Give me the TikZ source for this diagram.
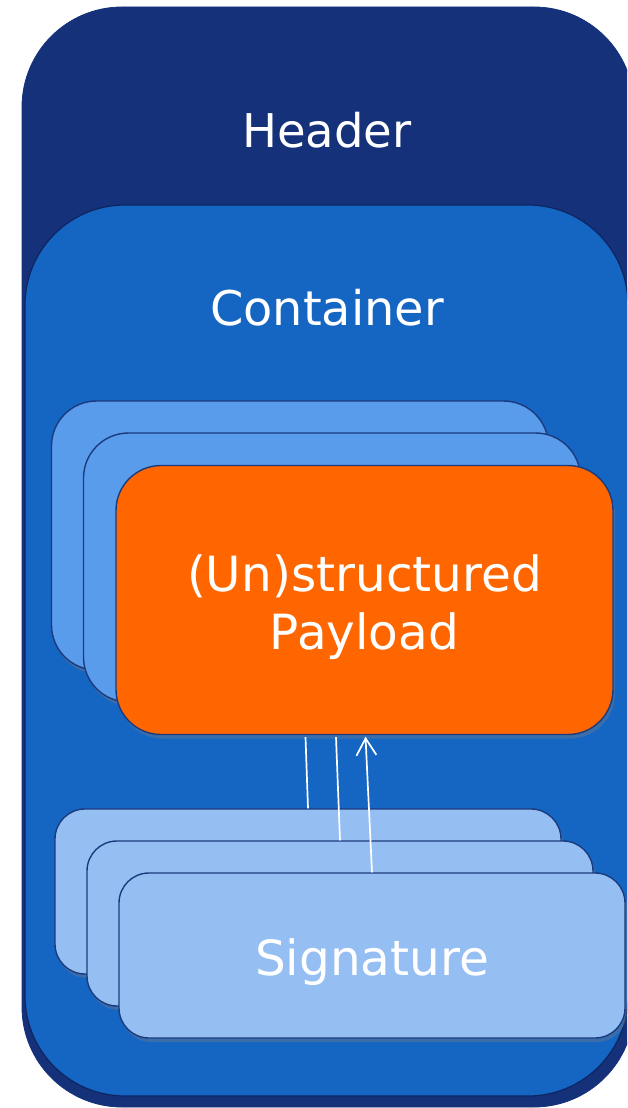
\documentclass[tikz,border=0pt]{standalone}
\usepackage{fontspec}
\setmainfont{DejaVu Sans}
\usetikzlibrary{shadows,arrows.meta}
\definecolor{hdrblue}{HTML}{14317A}
\definecolor{contblue}{HTML}{1565C3}
\definecolor{payblue}{HTML}{5A9CEC}
\definecolor{sigblue}{HTML}{95BFF2}
\definecolor{payorange}{HTML}{FF6600}
\definecolor{edgeblue}{HTML}{1C3B7E}
\definecolor{shadowblue}{HTML}{0E2560}
\tikzset{
  bigbox/.style={rectangle, inner sep=0pt, rounded corners=100pt, line width=0.8pt},
  stackbox/.style={rectangle, inner sep=0pt, draw=edgeblue, line width=1.4pt,
     drop shadow={shadow xshift=2pt, shadow yshift=-4pt, opacity=0.35}},
  paybox/.style={stackbox, rounded corners=45pt, minimum width=497pt, minimum height=269pt},
  sigbox/.style={stackbox, rounded corners=30pt, minimum width=506pt, minimum height=165pt},
  lbl/.style={text=white, inner sep=0pt, font=\fontsize{47}{58}\selectfont, align=center},
  biglbl/.style={lbl, font=\fontsize{48.5}{58}\selectfont},
  link/.style={draw=white, line width=1.7pt}
}
\begin{document}
\begin{tikzpicture}[x=1pt,y=-1pt]
\useasboundingbox (0,0) rectangle (627,1108);
\clip (0,0) rectangle (627,1108);
% header and container
\node[bigbox, fill=hdrblue, draw=hdrblue, minimum width=612pt, minimum height=1100pt] (header) at (328,557) {};
\node[bigbox, fill=contblue, draw=shadowblue, line width=1.2pt, minimum width=603pt, minimum height=891pt] (container) at (326.5,650.5) {};
\node[lbl, anchor=base, font=\fontsize{46.5}{58}\selectfont] (headertext) at (327,147) {Header};
\node[lbl, anchor=base, font=\fontsize{47.8}{58}\selectfont] (containertext) at (327,325) {Container};
% payload stack
\node[paybox, fill=payblue] (p1) at (300,535.5) {};
\node[paybox, fill=payblue] (p2) at (332,567.5) {};
\node[paybox, fill=payorange] (p3) at (364.5,600) {};
\node[biglbl, anchor=north] (paytext) at (364.5,554) {(Un)structured\\Payload};
% signature stack
\node[sigbox, fill=sigblue] (s1) at (308,891.5) {};
\node[sigbox, fill=sigblue] (s2) at (340,923.5) {};
\node[sigbox, fill=sigblue] (s3) at (372,955.5) {};
\node[biglbl, anchor=base] (sigtext) at (372,975) {Signature};
% connectors
\draw[link] ([xshift=-59pt,yshift=-2pt]p3.south) -- (s1.north);
\draw[link] ([xshift=-28.5pt,yshift=-2pt]p3.south) -- (s2.north);
\draw[link, -{Straight Barb[length=17pt,width=20pt]}] (s3.north) -- ([xshift=1pt,yshift=-1.5pt]p3.south);
\end{tikzpicture}
\end{document}
